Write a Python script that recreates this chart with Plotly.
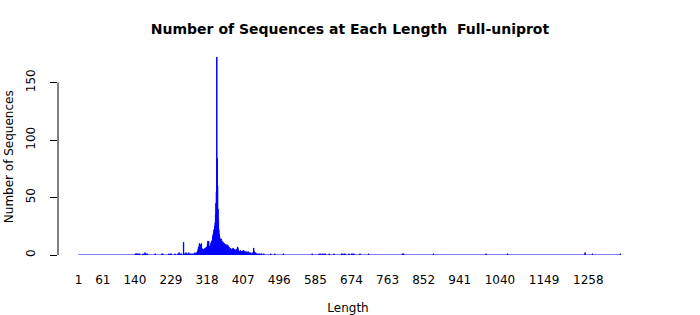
import plotly.graph_objects as go

# ---- data ----
lengths = [
    141, 143, 145, 147, 150, 152, 160, 163, 165, 168, 171, 190, 206, 209,
    224, 227, 230, 239, 246, 249, 252, 255, 260, 262, 266, 268, 270, 273,
    276, 279, 282, 285, 288, 290, 292, 294, 296, 297, 298, 299, 300, 301,
    302, 303, 304, 305, 306, 307, 308, 309, 310, 311, 312, 313, 314, 315,
    316, 317, 318, 319, 320, 321, 322, 323, 324, 325, 326, 327, 328, 329,
    330, 331, 332, 333, 334, 335, 336, 337, 338, 339, 340, 341, 342, 343,
    344, 345, 346, 347, 348, 349, 350, 351, 352, 353, 354, 355, 356, 357,
    358, 359, 360, 361, 362, 363, 364, 365, 366, 367, 368, 369, 370, 371,
    372, 373, 374, 375, 376, 377, 378, 379, 380, 381, 382, 383, 384, 385,
    386, 387, 388, 389, 390, 391, 392, 393, 394, 395, 396, 397, 398, 399,
    400, 401, 402, 403, 404, 405, 406, 407, 408, 409, 410, 411, 412, 414,
    415, 417, 419, 420, 422, 424, 426, 428, 431, 433, 434, 436, 438, 440,
    442, 445, 448, 451, 453, 458, 475, 485, 506, 577, 594, 598, 602, 606,
    609, 619, 631, 650, 653, 656, 658, 668, 674, 677, 680, 695, 716, 800,
    801, 803, 876, 1006, 1059, 1250, 1268, 1337,
]
counts = [
    1, 1, 1, 1, 1, 1, 1, 1, 2, 1, 1, 1, 1, 1,
    1, 1, 1, 1, 1, 2, 1, 1, 11, 1, 2, 1, 1, 2,
    1, 1, 1, 1, 2, 1, 2, 3, 5, 7, 6, 10, 8, 6,
    9, 8, 10, 6, 5, 4, 5, 4, 5, 4, 5, 6, 4, 5,
    7, 6, 7, 9, 12, 11, 12, 8, 7, 6, 7, 9, 11, 10,
    12, 13, 16, 18, 15, 22, 20, 25, 28, 35, 45, 55, 172, 84,
    60, 40, 30, 22, 18, 16, 14, 13, 12, 14, 11, 12, 10, 9,
    11, 10, 8, 10, 9, 8, 9, 8, 7, 9, 8, 7, 8, 6,
    7, 5, 4, 5, 6, 4, 5, 3, 5, 4, 6, 5, 4, 3,
    5, 4, 3, 4, 5, 3, 4, 7, 6, 4, 3, 3, 2, 3,
    4, 3, 2, 3, 3, 2, 3, 4, 4, 3, 2, 3, 2, 3,
    1, 2, 3, 1, 2, 1, 2, 1, 2, 6, 3, 1, 2, 1,
    1, 1, 1, 1, 1, 1, 1, 1, 1, 1, 1, 1, 1, 1,
    1, 1, 1, 1, 1, 1, 1, 1, 1, 1, 1, 1, 1, 1,
    1, 1, 1, 1, 1, 2, 1, 1,
]
tick_values = [1, 61, 140, 229, 318, 407, 496, 585, 674, 763, 852, 941, 1040, 1149, 1258]
tick_labels = [str(v) for v in tick_values]
y_ticks = [0, 50, 100, 150]

FONT = "DejaVu Sans"
BLUE = "#0000FF"

W, H = 700, 315
ML, MR, MT, MB = 58, 62, 48, 60
plot_w = W - ML - MR
plot_h = H - MT - MB

fig = go.Figure(
    go.Bar(
        x=lengths,
        y=counts,
        width=0.83,
        marker=dict(color=BLUE, line=dict(color=BLUE, width=1)),
        hovertemplate="Length %{x}<br>%{y} sequences<extra></extra>",
    )
)

x_first = 1
x_last = max(lengths)

fig.update_layout(
    width=W,
    height=H,
    margin=dict(l=ML, r=MR, t=MT, b=MB, autoexpand=False),
    paper_bgcolor="white",
    plot_bgcolor="white",
    showlegend=False,
    font=dict(family=FONT, size=12, color="black"),
    title=dict(
        text="Number of Sequences at Each Length\u00a0 Full-uniprot",
        font=dict(family=FONT, size=14, color="black", weight="bold"),
        x=0.5,
        xanchor="center",
        xref="container",
        y=(H - 29) / H,
        yref="container",
        yanchor="middle",
    ),
    xaxis=dict(
        range=[-49.54, 1380.46],
        automargin=False,
        tickmode="array",
        tickvals=tick_values,
        ticktext=tick_labels,
        ticks="",
        ticklabelstandoff=16,
        showgrid=False,
        zeroline=False,
        showline=False,
        tickfont=dict(family=FONT, size=12, color="black"),
        title=dict(text="Length", font=dict(family=FONT, size=12, color="black"), standoff=22),
    ),
    yaxis=dict(
        range=[0, 180],
        automargin=False,
        tickmode="array",
        tickvals=y_ticks,
        ticks="outside",
        ticklen=7,
        tickcolor="black",
        tickwidth=1,
        tickangle=-90,
        ticklabelstandoff=10,
        showgrid=False,
        zeroline=False,
        showline=False,
        tickfont=dict(family=FONT, size=12, color="black"),
    ),
    annotations=[
        dict(
            text="Number of Sequences",
            textangle=-90,
            xref="paper",
            yref="paper",
            x=(8.5 - ML) / plot_w,
            y=(H - MB - 156.7) / plot_h,
            xanchor="center",
            yanchor="middle",
            showarrow=False,
            font=dict(family=FONT, size=12, color="black"),
        )
    ],
    shapes=[
        # baseline drawn by the zero-height bar borders
        dict(type="line", xref="x", yref="y", x0=x_first - 0.5, x1=x_last + 0.5, y0=0, y1=0,
             line=dict(color=BLUE, width=1), layer="above"),
        # y axis line spanning the tick range only
        dict(type="line", xref="paper", yref="y", x0=0, x1=0, y0=y_ticks[0], y1=y_ticks[-1],
             line=dict(color="black", width=1)),
    ],
    bargap=0.17,
)

fig.write_html("out.html")
